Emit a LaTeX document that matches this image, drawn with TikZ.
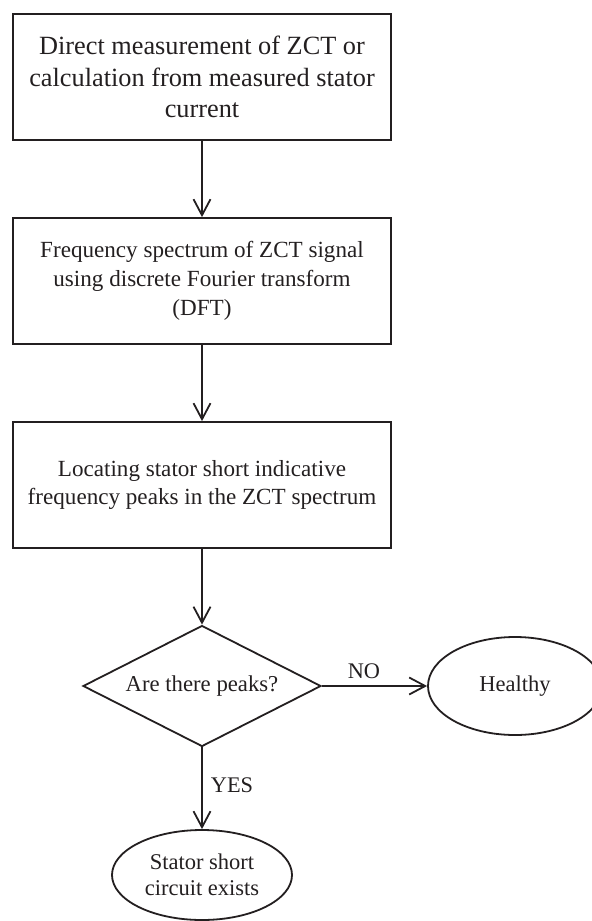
\documentclass[tikz,border=0pt]{standalone}
\usepackage{fontspec}
\setmainfont{Liberation Serif}
\usetikzlibrary{shapes.geometric,arrows.meta}
\definecolor{ink}{HTML}{231F20}
\begin{document}
\begin{tikzpicture}[x=1bp,y=-1bp,
  line width=1.8bp, draw=ink, text=ink,
  procbox/.style={draw=ink, line width=1.8bp, rectangle, minimum width=378bp, minimum height=126bp, inner sep=0pt, align=center},
  decbox/.style={draw=ink, line width=1.8bp, diamond, aspect=1.97, minimum width=238bp, minimum height=121bp, inner sep=0pt, font=\fontsize{22.8}{27}\selectfont},
  termbox/.style={draw=ink, line width=1.8bp, ellipse, inner sep=0pt, align=center, font=\fontsize{22.6}{26}\selectfont},
  flow/.style={draw=ink, line width=1.8bp, -{Straight Barb[length=16bp,width=17bp]}},
  lbl/.style={font=\fontsize{22.4}{27}\selectfont, inner sep=0pt, text=ink}]
\useasboundingbox (0,0) rectangle (592,921);
\node[procbox, font=\fontsize{26.4}{31.5}\selectfont] (b1) at (202,77)
  {Direct measurement of ZCT or\\calculation from measured stator\\current};
\node[procbox, font=\fontsize{23.2}{29}\selectfont] (b2) at (202,281)
  {Frequency spectrum of ZCT signal\\using discrete Fourier transform\\(DFT)};
\node[procbox, font=\fontsize{23.2}{29}\selectfont] (b3) at (202,485)
  {Locating stator short indicative\\frequency peaks in the ZCT spectrum};
\node[decbox] (d) at (202,686) {Are there peaks?};
\node[termbox, minimum width=174bp, minimum height=98bp] (h) at (515,686) {Healthy};
\node[termbox, minimum width=180bp, minimum height=90bp] (s) at (202,875) {Stator short\\circuit exists};
\draw[flow] (b1.south) -- (b2.north);
\draw[flow] (b2.south) -- (b3.north);
\draw[flow] (b3.south) -- (d.north);
\draw[flow] (d.east) -- node[lbl, pos=0.4, above=6bp] {NO} (h.west);
\draw[flow] (d.south) -- node[lbl, pos=0.46, right=8bp] {YES} (s.north);
\end{tikzpicture}
\end{document}
